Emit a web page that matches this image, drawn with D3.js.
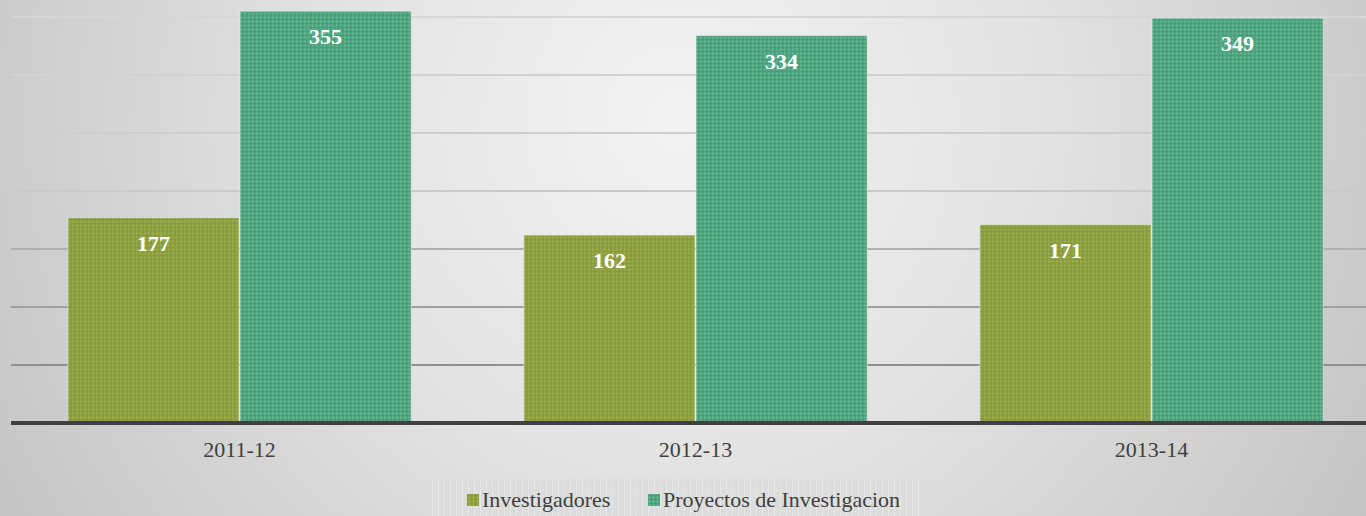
<!DOCTYPE html>
<html><head><meta charset="utf-8">
<script src="https://cdn.jsdelivr.net/npm/d3@7/dist/d3.min.js"></script>
<style>html,body{margin:0;padding:0;overflow:hidden;}svg{display:block;}
.serif{font-family:"Liberation Serif","DejaVu Serif","Times New Roman",serif;}</style>
</head><body><div id="chart"></div>
<script>
const categories = ["2011-12", "2012-13", "2013-14"];
const seriesNames = ["Investigadores", "Proyectos de Investigacion"];
const investigadores = [177, 162, 171];
const proyectos = [355, 334, 349];
const yTicks = [0, 50, 100, 150, 200, 250, 300, 350];

const W = 1366, H = 516;
const svg = d3.select("#chart").append("svg").attr("width", W).attr("height", H);
const defs = svg.append("defs");

const bg = defs.append("radialGradient").attr("id","bg").attr("gradientUnits","userSpaceOnUse")
  .attr("cx",680).attr("cy",120).attr("r",820);
bg.append("stop").attr("offset","0%").attr("stop-color","#f3f3f3");
bg.append("stop").attr("offset","45%").attr("stop-color","#e2e2e2");
bg.append("stop").attr("offset","100%").attr("stop-color","#c2c2c2");
svg.append("rect").attr("width",W).attr("height",H).attr("fill","url(#bg)");

const colors = ["#8a9c38", "#47a07b"];
const lights = ["#a8b86a", "#7cc0a0"];
colors.forEach((c,i)=>{
  const p = defs.append("pattern").attr("id","pat"+i).attr("patternUnits","userSpaceOnUse")
    .attr("width",4).attr("height",4);
  p.append("rect").attr("width",4).attr("height",4).attr("fill",c);
  p.append("rect").attr("x",1).attr("y",0).attr("width",1).attr("height",1).attr("fill",lights[i]).attr("opacity",0.8);
  p.append("rect").attr("x",0).attr("y",1).attr("width",3).attr("height",1).attr("fill",lights[i]).attr("opacity",0.5);
  p.append("rect").attr("x",1).attr("y",2).attr("width",1).attr("height",1).attr("fill",lights[i]).attr("opacity",0.8);
});
const lp = defs.append("pattern").attr("id","legpat").attr("patternUnits","userSpaceOnUse")
  .attr("width",6).attr("height",6);
lp.append("rect").attr("width",6).attr("height",6).attr("fill","#dcdcdc");
lp.append("rect").attr("x",0).attr("y",0).attr("width",1).attr("height",6).attr("fill","#e8e8e8");
lp.append("rect").attr("x",3).attr("y",3).attr("width",1).attr("height",1).attr("fill","#e6e6e6");

const x0 = d3.scaleBand().domain(categories).range([11.5, 1379.5]).paddingInner(0.245).paddingOuter(0.1225);
const x1 = d3.scaleBand().domain(seriesNames).range([0, x0.bandwidth()]);
const y = d3.scaleLinear().domain([0, 350]).range([423, 17]);

const gridColors = d3.scaleLinear().domain([350, 200, 150, 0]).range(["#d6d6d6", "#cacaca", "#b0b0b0", "#808080"]);
svg.append("g").selectAll("line").data(yTicks.filter(t=>t>0)).join("line")
  .attr("x1",11).attr("x2",W).attr("y1",d=>y(d)).attr("y2",d=>y(d))
  .attr("stroke",d=>gridColors(d)).attr("stroke-width",2);

const data = categories.map((c,i)=>({cat:c, vals:[investigadores[i], proyectos[i]]}));
const groups = svg.append("g").selectAll("g").data(data).join("g")
  .attr("transform",d=>`translate(${x0(d.cat)},0)`);
groups.selectAll("rect").data(d=>d.vals.map((v,j)=>({v,j}))).join("rect")
  .attr("x",d=>x1(seriesNames[d.j])+0.5).attr("width",x1.bandwidth()-1)
  .attr("y",d=>y(d.v)).attr("height",d=>y(0)-y(d.v))
  .attr("fill",d=>`url(#pat${d.j})`).attr("stroke","#e8efe8").attr("stroke-opacity",0.6).attr("stroke-width",1);
groups.selectAll("text").data(d=>d.vals.map((v,j)=>({v,j}))).join("text")
  .attr("class","serif")
  .attr("x",d=>x1(seriesNames[d.j])+x1.bandwidth()/2).attr("y",d=>y(d.v)+33)
  .attr("text-anchor","middle").attr("fill","#ffffff").style("font-weight","bold")
  .style("font-size","22px")
  .text(d=>d.v);

const xAxis = svg.append("g").attr("transform",`translate(0,${y(0)})`)
  .call(d3.axisBottom(x0).tickSize(0).tickPadding(0));
xAxis.attr("font-family",null).attr("font-size",null);
xAxis.select(".domain").remove();
svg.append("line").attr("x1",11).attr("x2",W).attr("y1",y(0)).attr("y2",y(0))
  .attr("stroke","#404040").attr("stroke-width",4);
xAxis.selectAll("text").attr("class","serif").attr("y",34).attr("dy",0).attr("fill","#404040")
  .style("font-size","22px");

const leg = svg.append("g");
leg.append("rect").attr("x",431).attr("y",479).attr("width",493).attr("height",37).attr("fill","url(#legpat)").attr("opacity",0.9);
const legX = [467, 648];
seriesNames.forEach((s,i)=>{
  leg.append("rect").attr("x",legX[i]).attr("y",494).attr("width",12).attr("height",12).attr("fill",`url(#pat${i})`);
  leg.append("text").attr("class","serif").attr("x",legX[i]+15).attr("y",507).attr("fill","#404040")
    .style("font-size","22px").text(s);
});
</script></body></html>
